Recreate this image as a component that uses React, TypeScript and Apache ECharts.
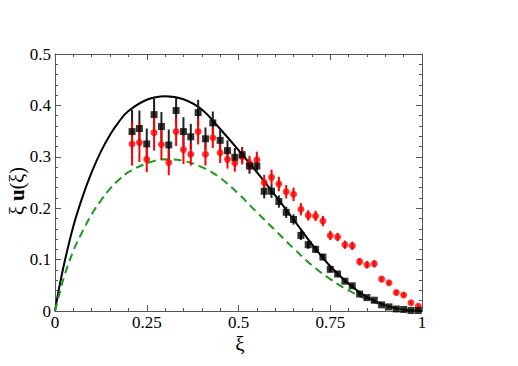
import React, { useEffect, useRef } from "react";
import * as echarts from "echarts";

const xi = [0.21, 0.23, 0.25, 0.27, 0.29, 0.31, 0.33, 0.35, 0.37, 0.39, 0.41, 0.43, 0.45, 0.47, 0.49, 0.51, 0.53, 0.55, 0.57, 0.59, 0.61, 0.63, 0.65, 0.67, 0.69, 0.71, 0.73, 0.75, 0.77, 0.79, 0.81, 0.83, 0.85, 0.87, 0.89, 0.91, 0.93, 0.95, 0.97, 0.99];
const blackVals = [0.349, 0.355, 0.325, 0.382, 0.359, 0.323, 0.39, 0.349, 0.339, 0.386, 0.335, 0.366, 0.332, 0.312, 0.299, 0.304, 0.282, 0.282, 0.233, 0.233, 0.213, 0.192, 0.178, 0.147, 0.129, 0.12, 0.105, 0.081, 0.072, 0.058, 0.049, 0.033, 0.026, 0.021, 0.012, 0.008, 0.004, 0.003, 0.001, 0.001];
const blackErr = [0.042, 0.035, 0.03, 0.035, 0.028, 0.03, 0.025, 0.028, 0.025, 0.025, 0.022, 0.022, 0.02, 0.02, 0.018, 0.015, 0.015, 0.014, 0.014, 0.013, 0.012, 0.011, 0.01, 0.009, 0.008, 0.007, 0.006, 0.005, 0.005, 0.004, 0.004, 0.003, 0.003, 0.002, 0.002, 0.002, 0.001, 0.001, 0.001, 0.001];
const redVals = [0.325, 0.328, 0.295, 0.347, 0.324, 0.289, 0.349, 0.314, 0.305, 0.349, 0.305, 0.337, 0.308, 0.295, 0.288, 0.3, 0.287, 0.294, 0.25, 0.26, 0.247, 0.232, 0.227, 0.198, 0.186, 0.185, 0.175, 0.147, 0.144, 0.129, 0.127, 0.096, 0.09, 0.092, 0.062, 0.055, 0.036, 0.031, 0.016, 0.009];
const redErr = [0.042, 0.038, 0.025, 0.035, 0.03, 0.025, 0.028, 0.028, 0.022, 0.025, 0.022, 0.02, 0.02, 0.018, 0.017, 0.015, 0.015, 0.016, 0.015, 0.015, 0.014, 0.013, 0.013, 0.012, 0.01, 0.01, 0.01, 0.009, 0.008, 0.008, 0.008, 0.007, 0.007, 0.007, 0.005, 0.004, 0.004, 0.004, 0.003, 0.003];

const curveXi = [0, 0.01, 0.025, 0.05, 0.075, 0.1, 0.125, 0.15, 0.175, 0.2, 0.25, 0.3, 0.35, 0.4, 0.45, 0.5, 0.55, 0.6, 0.65, 0.7, 0.75, 0.8, 0.85, 0.9, 0.95, 1];
const solidCurve = [0, 0.04, 0.092, 0.165, 0.222, 0.27, 0.31, 0.343, 0.369, 0.389, 0.411, 0.418, 0.412, 0.392, 0.354, 0.313, 0.27, 0.225, 0.178, 0.13, 0.087, 0.053, 0.027, 0.011, 0.003, 0];
const dashedCurve = [0, 0.028, 0.067, 0.117, 0.155, 0.188, 0.215, 0.238, 0.256, 0.27, 0.287, 0.295, 0.292, 0.28, 0.259, 0.228, 0.192, 0.157, 0.122, 0.089, 0.062, 0.04, 0.023, 0.01, 0.003, 0];

const xTicks = [0, 0.25, 0.5, 0.75, 1];
const yTicks = [0, 0.1, 0.2, 0.3, 0.4, 0.5];

const FONT = "Liberation Serif, Times New Roman, serif";
const AXIS_COLOR = "#555";

function errorSeries(vals: number[], errs: number[], color: string) {
  return {
    type: "custom",
    xAxisIndex: 0,
    yAxisIndex: 0,
    encode: { x: 0, y: 1 },
    data: xi.map((x, i) => [x, vals[i], errs[i]]),
    renderItem: (params: any, api: any) => {
      const x = api.value(0);
      const y = api.value(1);
      const e = api.value(2);
      const p1 = api.coord([x, y + e]);
      const p2 = api.coord([x, y - e]);
      return {
        type: "line",
        shape: { x1: p1[0], y1: p1[1], x2: p2[0], y2: p2[1] },
        style: { stroke: color, lineWidth: 2 },
      };
    },
    z: 3,
  };
}

export default function App() {
  const ref = useRef<HTMLDivElement>(null);
  useEffect(() => {
    if (!ref.current) return;
    const chart = echarts.init(ref.current, undefined, { renderer: "svg" });
    const baseAxis = (pos: string, showLabel: boolean, isX: boolean) => ({
      type: "value",
      position: pos,
      min: 0,
      max: isX ? 1 : 0.5,
      interval: isX ? 0.25 : 0.1,
      axisLine: { show: true, onZero: false, lineStyle: { color: AXIS_COLOR, width: 1 } },
      axisTick: { show: true, inside: true, length: 6, lineStyle: { color: AXIS_COLOR, width: 1 } },
      minorTick: { show: true, splitNumber: 5, length: 3, lineStyle: { color: AXIS_COLOR, width: 1 } },
      splitLine: { show: false },
      minorSplitLine: { show: false },
      axisLabel: {
        show: showLabel,
        color: "#000",
        fontFamily: FONT,
        fontSize: 17,
        margin: isX ? 3 : 4,
        formatter: (v: number) => {
          const arr = isX ? xTicks : yTicks;
          const m = arr.find((t) => Math.abs(t - v) < 1e-6);
          return m === undefined ? "" : String(m);
        },
      },
    });
    chart.setOption({
      animation: false,
      backgroundColor: "#fff",
      grid: { left: 55, right: 96, top: 54, bottom: 55, containLabel: false },
      xAxis: [baseAxis("bottom", true, true), baseAxis("top", false, true)],
      yAxis: [baseAxis("left", true, false), baseAxis("right", false, false)],
      graphic: [
        {
          type: "text",
          x: 240,
          y: 344,
          style: {
            text: "ξ",
            fontFamily: FONT,
            fontSize: 21,
            fill: "#000",
            align: "center",
            verticalAlign: "middle",
          },
        },
        {
          type: "text",
          x: 17,
          y: 191,
          rotation: Math.PI / 2,
          style: {
            text: "{a|ξ }{b|u}{a|(ξ)}",
            rich: {
              a: { fontFamily: FONT, fontSize: 20, fill: "#000", color: "#000" },
              b: { fontFamily: FONT, fontSize: 21, fontWeight: "bold", fill: "#000", color: "#000" },
            },
            fontFamily: FONT,
            fontSize: 20,
            fill: "#000",
            align: "center",
            verticalAlign: "middle",
          },
        },
      ],
      series: [
        {
          type: "line",
          data: curveXi.map((x, i) => [x, solidCurve[i]]),
          smooth: 0.4,
          showSymbol: false,
          lineStyle: { color: "#000", width: 2 },
          z: 2,
        },
        {
          type: "line",
          data: curveXi.map((x, i) => [x, dashedCurve[i]]),
          smooth: 0.4,
          showSymbol: false,
          lineStyle: { color: "#1a9a1a", width: 2, type: [8, 5] },
          z: 2,
        },
        errorSeries(blackVals, blackErr, "#222"),
        errorSeries(redVals, redErr, "#ff0000"),
        {
          type: "scatter",
          data: xi.map((x, i) => [x, redVals[i]]),
          symbol: "circle",
          symbolSize: 7,
          itemStyle: { color: "#ff0000" },
          z: 4,
        },
        {
          type: "scatter",
          data: xi.map((x, i) => [x, blackVals[i]]),
          symbol: "rect",
          symbolSize: 7,
          itemStyle: { color: "#000" },
          z: 5,
        },
      ],
    });
    return () => chart.dispose();
  }, []);
  return <div ref={ref} style={{ position: "fixed", left: 0, top: 0, width: 518, height: 366 }} />;
}
